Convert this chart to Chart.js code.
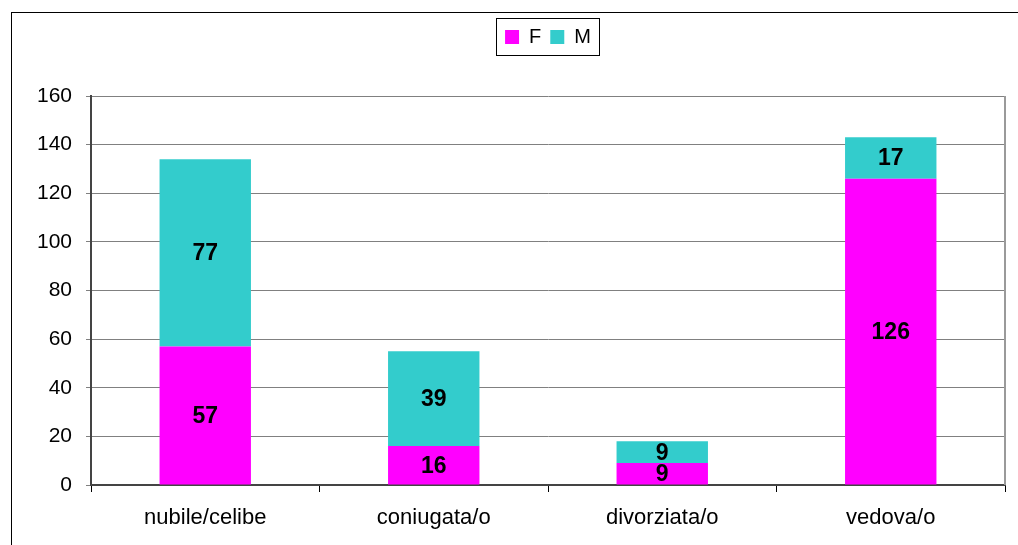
<!DOCTYPE html>
<html>
<head>
<meta charset="utf-8">
<script src="https://cdn.jsdelivr.net/npm/chart.js@4.4.1/dist/chart.umd.min.js"></script>
<style>
  html, body { margin: 0; padding: 0; background: #fff; }
  #wrap { width: 1018px; height: 545px; }
</style>
</head>
<body>
<div id="wrap"><canvas id="chart" width="1018" height="545"></canvas></div>
<script>
const categories = ["nubile/celibe", "coniugata/o", "divorziata/o", "vedova/o"];
const femmine = [57, 16, 9, 126];
const maschi = [77, 39, 9, 17];
const seriesNames = ["F", "M"];
const yTicks = [0, 20, 40, 60, 80, 100, 120, 140, 160];

const FONT = "'Liberation Sans', Arial, sans-serif";

// outer frame + grey border on the right of the plot area
const framePlugin = {
    id: 'frame',
    beforeDraw(chart) {
        const ctx = chart.ctx;
        ctx.save();
        ctx.fillStyle = '#fff';
        ctx.fillRect(0, 0, chart.width, chart.height);
        ctx.strokeStyle = '#000';
        ctx.lineWidth = 1;
        ctx.strokeRect(11.5, 12.5, chart.width + 10, chart.height + 10);
        ctx.restore();
    },
    beforeDatasetsDraw(chart) {
        const a = chart.chartArea;
        const ctx = chart.ctx;
        ctx.save();
        ctx.strokeStyle = '#9a9a9a';
        ctx.lineWidth = 2;
        ctx.beginPath();
        ctx.moveTo(a.right, a.top);
        ctx.lineTo(a.right, a.bottom);
        ctx.stroke();
        ctx.restore();
    }
};

// leave some empty room between the legend and the plot
const legendGap = {
    id: 'legendGap',
    beforeLayout(chart) {
        const lg = chart.legend;
        if (!lg || lg._gapPatched) return;
        const fit = lg.fit.bind(lg);
        lg.fit = function () {
            fit();
            this.height += 39;
        };
        lg._gapPatched = true;
    }
};

// values written in the middle of each stacked segment
const valueLabels = {
    id: 'valueLabels',
    afterDatasetsDraw(chart) {
        const ctx = chart.ctx;
        ctx.save();
        ctx.font = "bold 23px " + FONT;
        ctx.fillStyle = '#000';
        ctx.textAlign = 'center';
        ctx.textBaseline = 'middle';
        chart.data.datasets.forEach((ds, i) => {
            chart.getDatasetMeta(i).data.forEach((bar, j) => {
                const p = bar.getProps(['x', 'y', 'base'], true);
                ctx.fillText(ds.data[j], p.x, (p.y + p.base) / 2 + 1);
            });
        });
        ctx.restore();
    }
};

// box round the legend
const legendBox = {
    id: 'legendBox',
    afterDraw(chart) {
        const boxes = chart.legend.legendHitBoxes;
        if (!boxes || !boxes.length) return;
        const first = boxes[0], last = boxes[boxes.length - 1];
        const cy = first.top + first.height / 2;
        const ctx = chart.ctx;
        ctx.save();
        ctx.strokeStyle = '#000';
        ctx.lineWidth = 1;
        ctx.strokeRect(Math.round(first.left - 9) + 0.5, Math.round(cy - 19) + 0.5,
            Math.round(last.left + last.width - first.left + 17), 37);
        ctx.restore();
    }
};

new Chart(document.getElementById('chart'), {
    type: 'bar',
    data: {
        labels: categories,
        datasets: [
            { label: seriesNames[0], data: femmine, backgroundColor: '#ff00ff' },
            { label: seriesNames[1], data: maschi, backgroundColor: '#33cccc' }
        ]
    },
    options: {
        responsive: false,
        animation: false,
        layout: { padding: { left: 0, right: 13, top: 18, bottom: 0 } },
        datasets: { bar: { categoryPercentage: 1, barPercentage: 0.4 } },
        plugins: {
            legend: {
                position: 'top',
                fullSize: false,
                labels: {
                    boxWidth: 14,
                    boxHeight: 14,
                    padding: 9,
                    color: '#000',
                    font: { family: FONT, size: 20 }
                }
            },
            tooltip: { enabled: false }
        },
        scales: {
            x: {
                stacked: true,
                grid: { offset: true, drawOnChartArea: false, color: '#000', tickLength: 7 },
                border: { color: '#444', width: 2 },
                ticks: { color: '#000', padding: 13, font: { family: FONT, size: 22 } },
                afterFit(scale) { scale.height = 60; }
            },
            y: {
                stacked: true,
                min: 0,
                max: 160,
                afterBuildTicks(scale) { scale.ticks = yTicks.map(v => ({ value: v })); },
                grid: { color: '#808080', tickLength: 5 },
                border: { color: '#444', width: 2 },
                ticks: { color: '#000', padding: 14, font: { family: FONT, size: 21 } },
                afterFit(scale) { scale.width = 91; }
            }
        }
    },
    plugins: [framePlugin, legendGap, valueLabels, legendBox]
});
</script>
</body>
</html>
